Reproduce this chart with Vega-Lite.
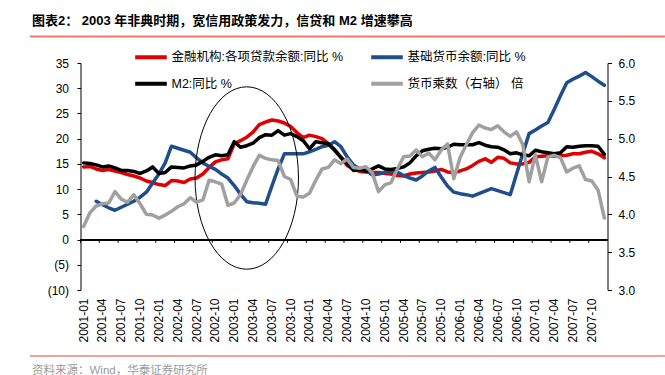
{
  "$schema": "https://vega.github.io/schema/vega-lite/v6.json",
  "width": 527,
  "height": 227,
  "autosize": {"type": "none"},
  "padding": {"left": 80.5, "top": 63, "right": 57.5, "bottom": 85},
  "config": {"view": {"stroke": null}, "font": "Liberation Sans, Noto Sans CJK SC"},
  "title": {
    "text": "图表2： 2003 年非典时期，宽信用政策发力，信贷和 M2 增速攀高",
    "anchor": "start", "frame": "group", "dx": -48.5, "offset": 7.5,
    "fontSize": 13, "fontWeight": "bold", "color": "#000000",
    "font": "Liberation Sans, Noto Sans CJK SC"
  },
  "datasets": {
    "main": [
      {"date":"2001-01","loan":14.4,"base":null,"m2":15.2,"mult":3.84},
      {"date":"2001-02","loan":14.5,"base":null,"m2":15.1,"mult":4.02},
      {"date":"2001-03","loan":14.0,"base":7.6,"m2":14.8,"mult":4.11},
      {"date":"2001-04","loan":13.7,"base":6.9,"m2":14.4,"mult":4.14},
      {"date":"2001-05","loan":13.9,"base":6.3,"m2":14.6,"mult":4.15},
      {"date":"2001-06","loan":13.6,"base":5.8,"m2":14.2,"mult":4.30},
      {"date":"2001-07","loan":13.3,"base":6.4,"m2":13.7,"mult":4.20},
      {"date":"2001-08","loan":12.9,"base":7.0,"m2":13.7,"mult":4.16},
      {"date":"2001-09","loan":12.6,"base":7.6,"m2":13.5,"mult":4.26},
      {"date":"2001-10","loan":12.2,"base":8.4,"m2":13.1,"mult":4.14},
      {"date":"2001-11","loan":11.6,"base":9.4,"m2":13.6,"mult":4.00},
      {"date":"2001-12","loan":11.3,"base":11.2,"m2":14.4,"mult":3.99},
      {"date":"2002-01","loan":10.9,"base":13.0,"m2":13.1,"mult":3.95},
      {"date":"2002-02","loan":10.7,"base":15.2,"m2":13.3,"mult":3.99},
      {"date":"2002-03","loan":11.7,"base":18.5,"m2":14.4,"mult":4.04},
      {"date":"2002-04","loan":11.6,"base":18.1,"m2":14.3,"mult":4.10},
      {"date":"2002-05","loan":11.3,"base":17.7,"m2":14.2,"mult":4.14},
      {"date":"2002-06","loan":12.0,"base":17.3,"m2":14.6,"mult":4.22},
      {"date":"2002-07","loan":12.2,"base":16.2,"m2":14.8,"mult":4.16},
      {"date":"2002-08","loan":13.0,"base":15.2,"m2":15.5,"mult":4.19},
      {"date":"2002-09","loan":14.3,"base":14.5,"m2":16.3,"mult":4.45},
      {"date":"2002-10","loan":15.4,"base":13.9,"m2":16.8,"mult":4.43},
      {"date":"2002-11","loan":15.8,"base":13.0,"m2":16.6,"mult":4.40},
      {"date":"2002-12","loan":16.0,"base":12.2,"m2":16.8,"mult":4.12},
      {"date":"2003-01","loan":19.0,"base":10.7,"m2":19.4,"mult":4.15},
      {"date":"2003-02","loan":19.6,"base":9.0,"m2":18.3,"mult":4.26},
      {"date":"2003-03","loan":20.3,"base":7.5,"m2":18.6,"mult":4.45},
      {"date":"2003-04","loan":21.3,"base":7.3,"m2":19.1,"mult":4.63},
      {"date":"2003-05","loan":22.8,"base":7.2,"m2":20.2,"mult":4.78},
      {"date":"2003-06","loan":23.3,"base":7.0,"m2":20.8,"mult":4.74},
      {"date":"2003-07","loan":23.7,"base":10.6,"m2":20.7,"mult":4.72},
      {"date":"2003-08","loan":23.5,"base":14.0,"m2":21.6,"mult":4.71},
      {"date":"2003-09","loan":23.1,"base":17.0,"m2":20.7,"mult":4.50},
      {"date":"2003-10","loan":22.4,"base":17.0,"m2":21.0,"mult":4.46},
      {"date":"2003-11","loan":21.2,"base":17.0,"m2":20.4,"mult":4.24},
      {"date":"2003-12","loan":20.2,"base":17.0,"m2":19.6,"mult":4.23},
      {"date":"2004-01","loan":20.7,"base":17.4,"m2":18.0,"mult":4.28},
      {"date":"2004-02","loan":20.4,"base":17.9,"m2":19.4,"mult":4.45},
      {"date":"2004-03","loan":20.0,"base":18.4,"m2":19.2,"mult":4.60},
      {"date":"2004-04","loan":19.0,"base":18.7,"m2":19.0,"mult":4.62},
      {"date":"2004-05","loan":17.9,"base":19.4,"m2":17.7,"mult":4.72},
      {"date":"2004-06","loan":16.3,"base":18.4,"m2":16.3,"mult":4.67},
      {"date":"2004-07","loan":14.7,"base":16.4,"m2":15.1,"mult":4.73},
      {"date":"2004-08","loan":14.0,"base":14.8,"m2":13.7,"mult":4.62},
      {"date":"2004-09","loan":13.5,"base":14.0,"m2":13.9,"mult":4.61},
      {"date":"2004-10","loan":13.4,"base":13.8,"m2":13.5,"mult":4.63},
      {"date":"2004-11","loan":13.3,"base":12.8,"m2":14.0,"mult":4.55},
      {"date":"2004-12","loan":13.3,"base":13.0,"m2":14.6,"mult":4.30},
      {"date":"2005-01","loan":13.1,"base":13.3,"m2":14.0,"mult":4.39},
      {"date":"2005-02","loan":13.0,"base":13.6,"m2":13.9,"mult":4.42},
      {"date":"2005-03","loan":12.7,"base":13.4,"m2":14.1,"mult":4.60},
      {"date":"2005-04","loan":12.6,"base":12.7,"m2":14.4,"mult":4.76},
      {"date":"2005-05","loan":13.0,"base":12.2,"m2":15.2,"mult":4.77},
      {"date":"2005-06","loan":13.2,"base":11.8,"m2":16.6,"mult":4.85},
      {"date":"2005-07","loan":13.3,"base":12.6,"m2":17.6,"mult":4.76},
      {"date":"2005-08","loan":13.4,"base":13.6,"m2":17.9,"mult":4.81},
      {"date":"2005-09","loan":13.6,"base":14.3,"m2":18.1,"mult":4.72},
      {"date":"2005-10","loan":13.9,"base":12.4,"m2":18.0,"mult":4.85},
      {"date":"2005-11","loan":13.4,"base":10.6,"m2":18.3,"mult":4.93},
      {"date":"2005-12","loan":13.3,"base":9.4,"m2":18.9,"mult":4.47},
      {"date":"2006-01","loan":13.6,"base":9.1,"m2":18.8,"mult":4.75},
      {"date":"2006-02","loan":14.0,"base":8.9,"m2":18.8,"mult":4.92},
      {"date":"2006-03","loan":14.7,"base":8.6,"m2":18.8,"mult":5.08},
      {"date":"2006-04","loan":15.5,"base":9.1,"m2":19.2,"mult":5.18},
      {"date":"2006-05","loan":16.0,"base":9.6,"m2":18.7,"mult":5.14},
      {"date":"2006-06","loan":15.3,"base":10.1,"m2":18.4,"mult":5.12},
      {"date":"2006-07","loan":16.3,"base":9.7,"m2":18.3,"mult":5.17},
      {"date":"2006-08","loan":16.1,"base":9.3,"m2":17.8,"mult":5.09},
      {"date":"2006-09","loan":15.2,"base":8.9,"m2":17.0,"mult":5.03},
      {"date":"2006-10","loan":15.0,"base":13.0,"m2":17.2,"mult":5.09},
      {"date":"2006-11","loan":15.0,"base":17.0,"m2":16.8,"mult":4.92},
      {"date":"2006-12","loan":15.3,"base":21.0,"m2":16.6,"mult":4.43},
      {"date":"2007-01","loan":16.4,"base":21.7,"m2":17.7,"mult":4.79},
      {"date":"2007-02","loan":16.5,"base":22.5,"m2":17.4,"mult":4.43},
      {"date":"2007-03","loan":16.6,"base":23.2,"m2":17.2,"mult":4.76},
      {"date":"2007-04","loan":16.5,"base":25.8,"m2":17.0,"mult":4.78},
      {"date":"2007-05","loan":16.6,"base":28.5,"m2":17.2,"mult":4.75},
      {"date":"2007-06","loan":16.7,"base":31.1,"m2":18.4,"mult":4.56},
      {"date":"2007-07","loan":17.0,"base":31.8,"m2":18.3,"mult":4.61},
      {"date":"2007-08","loan":17.0,"base":32.4,"m2":18.5,"mult":4.64},
      {"date":"2007-09","loan":17.3,"base":33.1,"m2":18.6,"mult":4.46},
      {"date":"2007-10","loan":17.5,"base":32.3,"m2":18.6,"mult":4.44},
      {"date":"2007-11","loan":17.0,"base":31.4,"m2":18.5,"mult":4.32},
      {"date":"2007-12","loan":16.2,"base":30.6,"m2":16.9,"mult":3.95}
    ]
  },
  "data": {"name": "main"},
  "layer": [
    {
      "layer": [
        {
          "transform": [{"fold": ["loan", "base", "m2"], "as": ["series", "value"]}],
          "mark": {"type": "line", "strokeWidth": 3.5, "strokeCap": "round", "strokeJoin": "round"},
          "encoding": {
            "x": {
              "field": "date", "type": "ordinal", "bandPosition": 0.5,
              "scale": {"type": "band", "paddingInner": 0, "paddingOuter": 0},
              "axis": {
                "values": ["2001-01","2001-04","2001-07","2001-10","2002-01","2002-04","2002-07","2002-10","2003-01","2003-04","2003-07","2003-10","2004-01","2004-04","2004-07","2004-10","2005-01","2005-04","2005-07","2005-10","2006-01","2006-04","2006-07","2006-10","2007-01","2007-04","2007-07","2007-10"],
                "labelAngle": 270, "labelAlign": "right", "labelBaseline": "middle",
                "ticks": false, "domain": false, "grid": false, "labelPadding": 8,
                "labelFontSize": 12, "labelColor": "#000000", "labelFont": "Liberation Sans",
                "title": "资料来源：Wind，华泰证券研究所",
                "titleX": -49, "titleY": 80, "titleAlign": "left", "titleBaseline": "middle", "titleAngle": 0,
                "titleFontSize": 11.5, "titleFontWeight": "normal", "titleColor": "#9a9a9a",
                "titleFont": "Liberation Sans, Noto Sans CJK SC"
              }
            },
            "y": {
              "field": "value", "type": "quantitative",
              "scale": {"domain": [-10, 35], "nice": false, "zero": false},
              "axis": {
                "values": [-10, -5, 0, 5, 10, 15, 20, 25, 30, 35], "labelOverlap": false,
                "labelExpr": "datum.value < 0 ? '(' + abs(datum.value) + ')' : datum.label + '\u00a0'",
                "grid": false, "domainColor": "#000000", "tickColor": "#000000",
                "tickSize": 3.5, "labelPadding": 8.5, "labelFontSize": 12,
                "labelColor": "#000000", "labelFont": "Liberation Sans", "title": null
              }
            },
            "color": {
              "field": "series", "type": "nominal",
              "scale": {"domain": ["loan", "base", "m2", "mult"], "range": ["#e00000", "#1f4e8c", "#000000", "#a0a0a0"]},
              "legend": {
                "orient": "none", "legendX": 52.5, "legendY": -12.7, "columns": 2, "direction": "horizontal", "title": null,
                "symbolType": "stroke", "symbolSize": 1000, "symbolStrokeWidth": 4, "clipHeight": 14,
                "labelFontSize": 12.5, "labelFont": "Liberation Sans, Noto Sans CJK SC", "labelColor": "#000000",
                "labelLimit": 300, "labelOffset": 2.5, "rowPadding": 12.5, "columnPadding": 25, "padding": 0,
                "labelExpr": "datum.label == 'loan' ? '金融机构:各项贷款余额:同比 %' : datum.label == 'base' ? '基础货币余额:同比 %' : datum.label == 'm2' ? 'M2:同比 %' : '货币乘数（右轴） 倍'"
              }
            }
          }
        },
        {
          "mark": {"type": "rule", "color": "#000000", "strokeWidth": 1},
          "encoding": {
            "y": {
              "datum": 0, "type": "quantitative",
              "axis": {
                "values": [-10, -5, 0, 5, 10, 15, 20, 25, 30, 35], "labelOverlap": false,
                "labelExpr": "datum.value < 0 ? '(' + abs(datum.value) + ')' : datum.label + '\u00a0'",
                "grid": false, "domainColor": "#000000", "tickColor": "#000000",
                "tickSize": 3.5, "labelPadding": 8.5, "labelFontSize": 12,
                "labelColor": "#000000", "labelFont": "Liberation Sans", "title": null
              }
            }
          }
        },
        {
          "transform": [{"filter": "indexof(['01','04','07','10'], substring(datum.date, 5, 7)) >= 0"}],
          "mark": {"type": "rule", "color": "#000000", "strokeWidth": 1},
          "encoding": {
            "x": {"field": "date", "type": "ordinal", "bandPosition": 0},
            "y": {
              "datum": 0, "type": "quantitative",
              "axis": {
                "values": [-10, -5, 0, 5, 10, 15, 20, 25, 30, 35], "labelOverlap": false,
                "labelExpr": "datum.value < 0 ? '(' + abs(datum.value) + ')' : datum.label + '\u00a0'",
                "grid": false, "domainColor": "#000000", "tickColor": "#000000",
                "tickSize": 3.5, "labelPadding": 8.5, "labelFontSize": 12,
                "labelColor": "#000000", "labelFont": "Liberation Sans", "title": null
              }
            },
            "y2": {"datum": -0.65}
          }
        },
        {
          "data": {"values": [{"date": "2003-03", "value": 12.2}]},
          "mark": {
            "type": "point", "filled": false, "color": "#000000", "strokeWidth": 1, "opacity": 1,
            "size": 33270,
            "shape": "M0.567,0C0.567,0.5523,0.3131,1,0,1C-0.3131,1,-0.567,0.5523,-0.567,0C-0.567,-0.5523,-0.3131,-1,0,-1C0.3131,-1,0.567,-0.5523,0.567,0Z"
          },
          "encoding": {
            "x": {"field": "date", "type": "ordinal", "bandPosition": 0.5},
            "y": {
              "field": "value", "type": "quantitative",
              "axis": {
                "values": [-10, -5, 0, 5, 10, 15, 20, 25, 30, 35], "labelOverlap": false,
                "labelExpr": "datum.value < 0 ? '(' + abs(datum.value) + ')' : datum.label + '\u00a0'",
                "grid": false, "domainColor": "#000000", "tickColor": "#000000",
                "tickSize": 3.5, "labelPadding": 8.5, "labelFontSize": 12,
                "labelColor": "#000000", "labelFont": "Liberation Sans", "title": null
              }
            }
          }
        }
      ]
    },
    {
      "transform": [{"fold": ["mult"], "as": ["series", "value"]}],
      "mark": {"type": "line", "strokeWidth": 3.5, "strokeCap": "round", "strokeJoin": "round"},
      "encoding": {
        "x": {
          "field": "date", "type": "ordinal", "bandPosition": 0.5,
          "scale": {"type": "band", "paddingInner": 0, "paddingOuter": 0},
          "axis": null
        },
        "y": {
          "field": "value", "type": "quantitative",
          "scale": {"domain": [3, 6], "nice": false, "zero": false},
          "axis": {
            "orient": "right", "values": [3, 3.5, 4, 4.5, 5, 5.5, 6], "format": ".1f",
            "grid": false, "domainColor": "#000000", "tickColor": "#000000",
            "tickSize": 4, "labelPadding": 6.5, "labelFontSize": 12,
            "labelColor": "#000000", "labelFont": "Liberation Sans", "title": null
          }
        },
        "color": {"field": "series", "type": "nominal"}
      }
    },
    {
      "data": {"values": [{}]},
      "layer": [
        {
          "mark": {"type": "rule", "color": "#f07a68", "strokeWidth": 2},
          "encoding": {
            "x": {"datum": -0.0958, "type": "quantitative", "scale": {"domain": [0, 1], "nice": false, "zero": false}, "axis": null},
            "x2": {"datum": 1.109},
            "y": {"datum": 1.1167, "type": "quantitative", "scale": {"domain": [0, 1], "nice": false, "zero": false}, "axis": null}
          }
        },
        {
          "mark": {"type": "rule", "color": "#f4a299", "strokeWidth": 2},
          "encoding": {
            "x": {"datum": -0.0958, "type": "quantitative"},
            "x2": {"datum": 1.109},
            "y": {"datum": -0.2907, "type": "quantitative"}
          }
        }
      ]
    }
  ],
  "resolve": {"scale": {"x": "independent", "y": "independent"}}
}
